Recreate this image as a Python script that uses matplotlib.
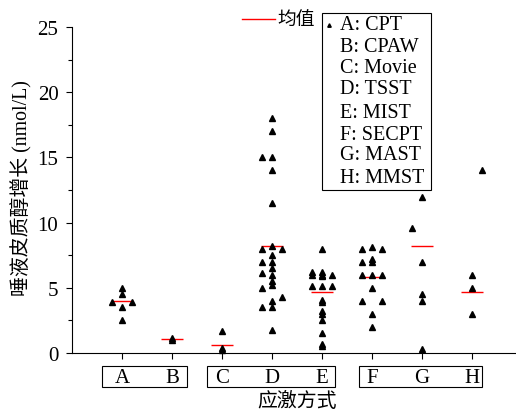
import matplotlib
matplotlib.use('Agg')
import matplotlib.pyplot as plt
from matplotlib.patches import Rectangle
from matplotlib.lines import Line2D
from matplotlib.ticker import MultipleLocator
import numpy as np

plt.rcParams.update({'font.family': ['Liberation Serif', 'Noto Sans CJK SC'],
                     'font.size': 15, 'axes.linewidth': 0.8})

W, H = 516, 410
def fp(x, y):
    # pixel position -> figure fraction
    return x / W, 1 - y / H

cats = ['A', 'B', 'C', 'D', 'E', 'F', 'G', 'H']
names = ['A: CPT', 'B: CPAW', 'C: Movie', 'D: TSST', 'E: MIST', 'F: SECPT', 'G: MAST', 'H: MMST']

# cortisol increase per study; col = swarm column (-1 left, 0 centre, 1 right)
A_vals = [5.0, 4.5, 3.9, 3.9, 3.5, 2.5]
A_col = [0, 0, -1, 1, 0, 0]
B_vals = [1.15, 1.0]
B_col = [0, 0]
C_vals = [1.7, 0.4, 0.2]
C_col = [0, 0, 0]
D_vals = [18.0, 17.0, 15.0, 15.0, 14.0, 11.5, 8.2, 8.0, 8.0, 7.5, 7.0, 7.0, 6.5,
          6.1, 6.0, 5.5, 5.2, 5.0, 4.3, 4.0, 3.5, 3.5, 1.8]
D_col = [0, 0, -1, 0, 0, 0, 0, -1, 1, 0, -1, 0, 0,
         -1, 0, 0, 0, -1, 1, 0, -1, 0, 0]
E_vals = [8.0, 6.2, 6.0, 6.2, 6.0, 5.9, 6.0, 5.1, 5.1, 5.1, 4.1, 3.9, 3.2, 3.0,
          2.5, 1.5, 0.7, 0.5]
E_col = [0, -1, -1, 0, 0, 0, 1, -1, 0, 1, 0, 0, 0, 0,
         0, 0, 0, 0]
F_vals = [8.0, 8.1, 8.0, 7.0, 7.2, 7.0, 6.0, 6.0, 6.0, 5.0, 4.0, 4.0, 3.0, 2.0]
F_col = [-1, 0, 1, -1, 0, 0, -1, 0, 1, 0, -1, 1, 0, 0]
G_vals = [12.0, 9.6, 7.0, 4.5, 4.0, 0.3]
G_col = [0, -1, 0, 0, 0, 0]
H_vals = [14.0, 6.0, 5.0, 3.0]
H_col = [1, 0, 0, 0]
means = [4.0, 1.05, 0.6, 8.2, 4.65, 5.8, 8.2, 4.65]

vals = [A_vals, B_vals, C_vals, D_vals, E_vals, F_vals, G_vals, H_vals]
cols = [A_col, B_col, C_col, D_col, E_col, F_col, G_col, H_col]

fig = plt.figure(figsize=(W / 100, H / 100), dpi=100)
ax = fig.add_axes([72 / W, 1 - 354 / H, 1 - 72 / W, (354 - 28) / H])

xs = np.arange(1, len(cats) + 1)
for x0, v, c in zip(xs, vals, cols):
    ax.plot(x0 + 0.2 * np.array(c), v, ls='none', marker='^', ms=4.5,
            color='black', clip_on=False, zorder=3)
ax.hlines(means, xs - 0.22, xs + 0.22, color='red', lw=1.0, zorder=2)

ax.set_xlim(0, 8.88)
ax.set_ylim(0, 25)
for s in ['top', 'right']:
    ax.spines[s].set_visible(False)
ax.set_xticks(xs)
ax.set_xticklabels(cats)
ax.set_yticks(range(0, 26, 5))
ax.yaxis.set_minor_locator(MultipleLocator(2.5))
ax.tick_params(axis='y', which='major', direction='out', length=4.3, width=0.8, pad=5.5)
ax.tick_params(axis='y', which='minor', direction='out', length=2.8, width=0.8)
ax.tick_params(axis='x', direction='out', length=4.5, width=0.8, pad=6.5)

# boxes grouping the category labels
for x1, x2 in [(101.7, 186.7), (207.3, 335.0), (359.0, 481.7)]:
    fig.add_artist(Rectangle(fp(x1, 387.7), (x2 - x1) / W, (387.7 - 366.7) / H,
                             transform=fig.transFigure, fill=False, lw=0.8, color='black'))

fig.text(*fp(22, 188), '唾液皮质醇增长 (nmol/L)', rotation=90, ha='center', va='center', fontsize=14.3)
fig.text(*fp(297, 402), '应激方式', ha='center', va='center', fontsize=14.3)

# mean legend
fig.add_artist(Line2D([242 / W, 275 / W], [1 - 20 / H, 1 - 20 / H], color='red', lw=1.0,
                      transform=fig.transFigure))
fig.text(*fp(277, 20), '均值', ha='left', va='center', fontsize=13.5)

# category legend
fig.add_artist(Rectangle(fp(322, 190.7), (430.7 - 322) / W, (190.7 - 14) / H,
                         transform=fig.transFigure, fill=False, lw=0.8, color='black'))
fig.add_artist(Line2D([329 / W], [1 - 26 / H], marker='^', ms=2.5, color='black',
                      ls='none', transform=fig.transFigure))
ys = [25.5, 47, 68.5, 90, 113, 135, 155.5, 179]
for nm, y in zip(names, ys):
    fig.text(*fp(340, y), nm, ha='left', va='center', fontsize=14.5)

fig.savefig('out.png', dpi=100)
